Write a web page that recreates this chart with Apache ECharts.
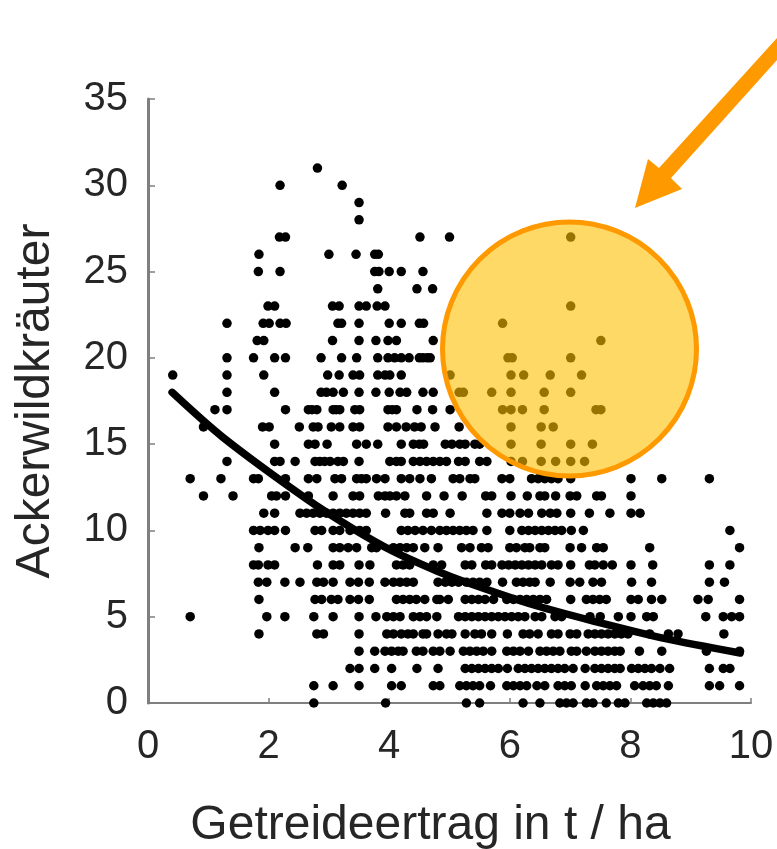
<!DOCTYPE html>
<html>
<head>
<meta charset="utf-8">
<style>html,body{margin:0;padding:0;background:#fff}#c{width:777px;height:849px}</style>
<script src="https://cdn.jsdelivr.net/npm/echarts@6/dist/echarts.min.js"></script>
</head>
<body>
<div id="c"></div>
<script>
const xAxisName = 'Getreideertrag in t / ha';
const yAxisName = 'Ackerwildkräuter';
const xTicks = [0, 2, 4, 6, 8, 10];
const yTicks = [0, 5, 10, 15, 20, 25, 30, 35];

// x values of the dots, one list per integer y value
const y31 = [2.81];
const y30 = [2.19, 3.22];
const y29 = [3.5];
const y28 = [3.5];
const y27 = [2.18, 2.28, 4.51, 5.0, 7.01];
const y26 = [1.84, 3.0, 3.45, 3.76, 3.82];
const y25 = [1.83, 2.19, 3.76, 3.83, 4.0, 4.2, 4.56];
const y24 = [3.81, 4.46, 4.72];
const y23 = [1.99, 2.1, 3.06, 3.17, 3.5, 3.62, 3.8, 3.93, 7.01];
const y22 = [1.31, 1.91, 2.01, 2.19, 2.29, 3.15, 3.21, 3.5, 4.0, 4.2, 4.5, 4.57, 5.88];
const y21 = [1.81, 1.92, 3.06, 3.5, 3.78, 3.98, 4.12, 4.73, 7.51];
const y20 = [1.31, 1.75, 2.1, 2.28, 2.87, 3.21, 3.46, 3.81, 3.98, 4.09, 4.2, 4.33, 4.5, 4.56, 4.63, 4.68, 5.97, 6.04, 7.01];
const y19 = [0.41, 1.31, 1.92, 2.98, 3.17, 3.4, 3.51, 3.81, 3.93, 4.01, 4.2, 5.01, 6.02, 6.23, 6.67, 7.19];
const y18 = [1.31, 2.1, 2.87, 2.96, 3.07, 3.24, 3.5, 3.78, 4.0, 4.18, 4.29, 4.56, 4.73, 5.16, 5.23, 5.7, 6.02, 6.57, 7.01];
const y17 = [1.11, 1.31, 2.28, 2.66, 2.72, 2.8, 3.07, 3.12, 3.18, 3.43, 3.51, 3.98, 4.05, 4.12, 4.46, 4.72, 5.01, 5.88, 6.02, 6.21, 6.57, 7.43, 7.51];
const y16 = [0.92, 1.9, 2.01, 2.51, 2.74, 2.82, 3.04, 3.18, 3.4, 3.51, 3.98, 4.12, 4.28, 4.42, 4.53, 4.76, 5.16, 6.02, 6.52, 6.72];
const y15 = [2.1, 2.66, 2.77, 2.97, 3.46, 3.62, 3.81, 4.2, 4.4, 4.5, 4.57, 4.93, 5.04, 5.17, 5.26, 5.42, 5.5, 6.02, 6.52, 7.01, 7.37];
const y14 = [1.31, 2.1, 2.19, 2.44, 2.77, 2.85, 2.93, 3.02, 3.15, 3.24, 3.5, 4.01, 4.12, 4.2, 4.4, 4.51, 4.62, 4.73, 4.84, 4.95, 5.15, 5.26, 5.5, 5.62, 6.02, 6.21, 6.52, 6.76, 7.01, 7.24];
const y13 = [0.7, 1.21, 1.75, 1.83, 2.28, 2.66, 2.8, 3.1, 3.21, 3.46, 3.54, 3.62, 3.79, 3.93, 4.2, 4.34, 4.51, 4.7, 5.06, 5.17, 5.34, 5.42, 5.87, 6.0, 6.36, 6.47, 6.58, 6.69, 6.8, 7.01, 8.01, 8.52, 9.31];
const y12 = [0.92, 1.41, 2.05, 2.13, 2.28, 2.66, 3.07, 3.4, 3.51, 3.82, 3.93, 4.01, 4.12, 4.26, 4.62, 4.91, 5.21, 5.6, 5.7, 6.02, 6.29, 6.5, 6.58, 6.76, 7.0, 7.11, 7.44, 7.52, 8.01];
const y11 = [1.92, 2.1, 2.52, 2.63, 2.74, 2.85, 2.96, 3.07, 3.18, 3.29, 3.4, 3.51, 3.62, 3.94, 4.26, 4.34, 4.62, 4.73, 5.01, 5.62, 5.87, 6.0, 6.17, 6.31, 6.53, 6.67, 6.78, 7.01, 7.32, 7.66, 8.01, 8.16];
const y10 = [1.75, 1.86, 1.99, 2.1, 2.28, 2.77, 2.88, 3.07, 3.18, 3.35, 3.51, 3.62, 4.2, 4.31, 4.43, 4.56, 4.7, 4.84, 4.95, 5.06, 5.17, 5.28, 5.39, 5.62, 6.0, 6.2, 6.31, 6.42, 6.53, 6.64, 6.75, 6.86, 7.02, 7.22, 9.65];
const y9 = [1.84, 2.44, 2.65, 3.07, 3.18, 3.32, 3.46, 3.71, 3.79, 4.07, 4.18, 4.29, 4.4, 4.59, 4.81, 5.2, 5.34, 5.53, 5.64, 6.0, 6.11, 6.25, 6.33, 6.5, 6.58, 7.0, 7.19, 7.44, 7.55, 8.32, 9.81];
const y8 = [1.75, 1.83, 1.99, 2.1, 2.81, 3.07, 3.18, 3.5, 3.68, 4.12, 4.23, 4.34, 4.73, 4.87, 5.26, 5.37, 5.6, 5.7, 5.87, 5.98, 6.09, 6.2, 6.31, 6.42, 6.53, 6.69, 6.8, 7.01, 7.32, 7.41, 7.55, 7.7, 8.01, 8.37, 9.31, 9.65];
const y7 = [1.83, 1.97, 2.27, 2.52, 2.8, 2.91, 3.07, 3.35, 3.49, 3.67, 3.93, 4.07, 4.18, 4.29, 4.4, 4.81, 4.93, 5.04, 5.15, 5.28, 5.39, 5.5, 5.62, 5.88, 6.11, 6.22, 6.33, 6.42, 6.67, 7.0, 7.16, 7.38, 7.52, 8.02, 8.35, 9.31, 9.56];
const y6 = [1.84, 2.77, 2.88, 3.04, 3.15, 3.35, 3.49, 3.67, 4.12, 4.23, 4.34, 4.45, 4.59, 4.79, 4.84, 4.98, 5.26, 5.37, 5.48, 5.59, 5.73, 5.95, 6.06, 6.17, 6.28, 6.39, 6.5, 6.61, 7.01, 7.27, 7.38, 7.49, 7.6, 8.01, 8.13, 8.35, 8.52, 9.12, 9.29, 9.81];
const y5 = [0.7, 1.97, 2.27, 2.75, 3.07, 3.5, 3.78, 3.96, 4.07, 4.18, 4.4, 4.51, 4.62, 4.79, 5.15, 5.26, 5.37, 5.48, 5.59, 5.7, 5.81, 5.92, 6.03, 6.14, 6.25, 6.42, 6.53, 6.75, 6.86, 7.33, 7.5, 7.8, 8.01, 8.27, 8.38, 9.25, 9.54, 9.68, 9.81];
const y4 = [1.84, 2.8, 2.91, 3.5, 3.96, 4.07, 4.2, 4.31, 4.4, 4.56, 4.62, 4.81, 4.95, 5.04, 5.26, 5.42, 5.53, 5.7, 5.96, 6.22, 6.33, 6.47, 6.69, 6.8, 7.0, 7.11, 7.3, 7.41, 7.52, 7.63, 7.74, 7.85, 7.96, 8.32, 8.63, 8.79, 9.55];
const y3 = [3.5, 3.76, 3.93, 4.04, 4.15, 4.23, 4.45, 4.56, 4.73, 4.84, 5.01, 5.23, 5.34, 5.45, 5.56, 5.7, 5.95, 6.06, 6.17, 6.31, 6.5, 6.61, 6.72, 6.83, 7.02, 7.11, 7.27, 7.41, 7.52, 7.63, 7.74, 7.83, 8.15, 8.52, 9.26, 9.81];
const y2 = [3.35, 3.5, 3.76, 4.04, 4.46, 4.81, 5.26, 5.37, 5.48, 5.59, 5.7, 5.81, 5.96, 6.14, 6.25, 6.36, 6.47, 6.58, 6.69, 6.8, 6.91, 7.05, 7.25, 7.41, 7.52, 7.63, 7.74, 7.83, 8.02, 8.13, 8.24, 8.35, 8.49, 8.65, 9.31, 9.54, 9.65];
const y1 = [2.75, 3.07, 3.5, 4.04, 4.2, 4.73, 4.84, 5.17, 5.28, 5.39, 5.5, 5.68, 5.95, 6.06, 6.17, 6.28, 6.45, 6.58, 6.8, 6.91, 7.02, 7.25, 7.44, 7.55, 7.66, 7.77, 8.07, 8.21, 8.32, 8.43, 8.63, 9.31, 9.48, 9.81];
const y0 = [2.75, 3.94, 5.28, 5.5, 6.22, 6.5, 6.83, 6.94, 7.05, 7.27, 7.38, 7.6, 7.8, 7.91, 8.27, 8.38, 8.49, 8.6];

const rows = [y0, y1, y2, y3, y4, y5, y6, y7, y8, y9, y10, y11, y12, y13, y14, y15,
  y16, y17, y18, y19, y20, y21, y22, y23, y24, y25, y26, y27, y28, y29, y30, y31];

// trend curve
const curveX = [0.4, 1.24, 2.64, 3.4, 4.06, 4.79, 5.23, 6.33, 7.44, 8.54, 9.82];
const curveY = [18, 15.4, 11.8, 10.1, 8.8, 7.65, 7.05, 5.75, 4.7, 3.76, 2.9];

const dots = [];
rows.forEach((xs, y) => xs.forEach(x => dots.push([x, y])));
const curve = curveX.map((x, i) => [x, curveY[i]]);

const FONT = '"Liberation Sans", Arial, sans-serif';
const AXIS = '#7f7f7f';
const TEXT = '#262626';
const chart = echarts.init(document.getElementById('c'), null, { renderer: 'canvas' });
chart.setOption({
  animation: false,
  backgroundColor: '#ffffff',
  grid: { left: 148, right: 26, top: 99, bottom: 146, outerBoundsMode: 'none' },
  xAxis: {
    type: 'value', min: 0, max: 10, interval: xTicks[1] - xTicks[0],
    name: xAxisName, nameLocation: 'middle', nameGap: 99,
    nameTextStyle: { fontFamily: FONT, fontSize: 48, color: TEXT, padding: [0, 38, 0, 0] },
    splitLine: { show: false },
    axisLine: { lineStyle: { color: AXIS, width: 2 } },
    axisTick: { inside: true, length: 5, lineStyle: { color: AXIS, width: 1.5 } },
    axisLabel: { fontFamily: FONT, fontSize: 40, color: TEXT, margin: 24, hideOverlap: false, showMaxLabel: true }
  },
  yAxis: {
    type: 'value', min: 0, max: 35, interval: yTicks[1] - yTicks[0],
    name: yAxisName, nameLocation: 'middle', nameGap: 88,
    nameTextStyle: { fontFamily: FONT, fontSize: 48, color: TEXT },
    splitLine: { show: false },
    axisLine: { lineStyle: { color: AXIS, width: 3 } },
    axisTick: { inside: true, length: 7, lineStyle: { color: AXIS, width: 1.5 } },
    axisLabel: { fontFamily: FONT, fontSize: 40, color: TEXT, margin: 20, padding: [4, 0, 0, 0] }
  },
  series: [
    { type: 'scatter', data: dots, symbol: 'circle', symbolSize: 9.5, clip: false,
      itemStyle: { color: '#000000', opacity: 1 }, z: 2 },
    { type: 'line', data: curve, smooth: 0.3, symbol: 'none', clip: false,
      lineStyle: { color: '#000000', width: 7.5, cap: 'round' }, z: 3 }
  ],
  graphic: [
    { type: 'polygon', z: 20,
      shape: { points: [[635, 208], [648, 159], [659, 168], [777, 38], [777, 60], [671, 178], [682, 189]] },
      style: { fill: '#ff9900' } },
    { type: 'circle', z: 21,
      shape: { cx: 569.5, cy: 349, r: 127 },
      style: { fill: 'rgba(255,192,0,0.6)', stroke: '#ff9900', lineWidth: 5 } }
  ]
});
</script>
</body>
</html>
